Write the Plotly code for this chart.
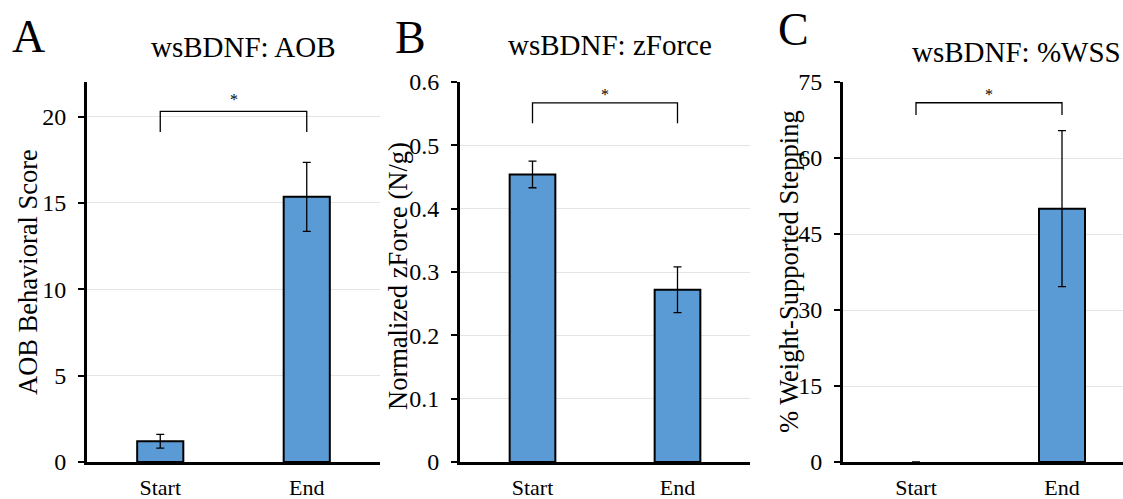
import plotly.graph_objects as go

categories = ["Start", "End"]

aob_mean = [1.2, 15.35]
aob_err = [0.4, 2.0]

zforce_mean = [0.454, 0.272]
zforce_err = [0.021, 0.036]

wss_mean = [0, 50.0]
wss_err = [0, 15.4]

# significance brackets: [bottom, top], star height
aob_bracket = [19.1, 20.3]
aob_star = 21.0
zforce_bracket = [0.535, 0.567]
zforce_star = 0.580
wss_bracket = [68.5, 70.9]
wss_star = 72.6

panel_titles = ["wsBDNF: AOB", "wsBDNF: zForce", "wsBDNF: %WSS"]
y_titles = ["AOB Behavioral Score", "Normalized zForce (N/g)", "% Weight-Supported Stepping"]
panel_letters = ["A", "B", "C"]

aob_ticks = [0, 5, 10, 15, 20]
zforce_ticks = [0, 0.1, 0.2, 0.3, 0.4, 0.5, 0.6]
zforce_ticklabels = ["0", "0.1", "0.2", "0.3", "0.4", "0.5", "0.6"]
wss_ticks = [0, 15, 30, 45, 60, 75]

FONT = "Liberation Serif"
BAR = "#5B9BD5"
W, H = 1123, 499

fig = go.Figure()

panels = [
    ("x", "y", aob_mean, aob_err, aob_bracket),
    ("x2", "y2", zforce_mean, zforce_err, zforce_bracket),
    ("x3", "y3", wss_mean, wss_err, wss_bracket),
]

for xa, ya, m, e, br in panels:
    fig.add_trace(go.Bar(
        x=categories, y=m, xaxis=xa, yaxis=ya, width=0.315,
        marker=dict(color=BAR, line=dict(color="black", width=[2 if v else 0 for v in m])),
        error_y=dict(type="data", array=[v if v else None for v in e], visible=True,
                     color="black", thickness=1.3, width=4),
        showlegend=False, hoverinfo="skip",
    ))
    fig.add_trace(go.Scatter(
        x=[categories[0], categories[0], categories[1], categories[1]],
        y=[br[0], br[1], br[1], br[0]],
        xaxis=xa, yaxis=ya, mode="lines",
        line=dict(color="black", width=1.3), showlegend=False, hoverinfo="skip",
    ))


def px(x):
    return x / W


def py(y):
    return 1 - y / H


ydom = [py(462), py(82)]
x_domains = [[px(87), px(380)], [px(460), px(750)], [px(843), 1.0]]
x_ranges = [[-0.5, 1.5], [-0.5, 1.5], [-0.5, -0.5 + 280 / 146]]
y_ranges = [[0, 22], [0, 0.6], [0, 75]]
y_tickvals = [aob_ticks, zforce_ticks, wss_ticks]
y_ticktext = [[str(v) for v in aob_ticks], zforce_ticklabels, [str(v) for v in wss_ticks]]

for i in range(3):
    sfx = "" if i == 0 else str(i + 1)
    fig.layout["xaxis" + sfx] = dict(
        domain=x_domains[i], range=x_ranges[i], type="category",
        anchor="y" + sfx, showline=True, linecolor="black", linewidth=3,
        ticks="", showgrid=False, zeroline=False, automargin=False, layer="above traces",
        tickfont=dict(family=FONT, size=22, color="black"), ticklabelstandoff=4,
    )
    fig.layout["yaxis" + sfx] = dict(
        domain=ydom, range=y_ranges[i], anchor="x" + sfx,
        showline=True, linecolor="black", linewidth=3,
        ticks="outside", ticklen=6, tickwidth=2, tickcolor="black",
        showgrid=True, gridcolor="#E4E4E4", gridwidth=1, zeroline=False,
        tickvals=y_tickvals[i], ticktext=y_ticktext[i], automargin=False,
        tickfont=dict(family=FONT, size=24, color="black"), ticklabelstandoff=7,
    )

annotations = []
stars = [(aob_star, "x", "y"), (zforce_star, "x2", "y2"), (wss_star, "x3", "y3")]
for st, xa, ya in stars:
    annotations.append(dict(x=0.5, y=st, xref=xa, yref=ya, text="*", showarrow=False,
                            xanchor="center", yanchor="middle",
                            font=dict(family=FONT, size=16, color="#000000")))

ytitle_pos = [(28, 272), (398, 276), (789, 272)]
for (xx, yy), t in zip(ytitle_pos, y_titles):
    annotations.append(dict(x=px(xx), y=py(yy), xref="paper", yref="paper", text=t,
                            textangle=-90, showarrow=False, xanchor="center", yanchor="middle",
                            font=dict(family=FONT, size=26.5, color="black")))

title_pos = [(243, 47, "center"), (610, 45, "center"), (910, 52, "left")]
for (xx, yy, anc), t in zip(title_pos, panel_titles):
    annotations.append(dict(x=px(xx), y=py(yy), xref="paper", yref="paper", text=t,
                            xanchor=anc, yanchor="middle", showarrow=False,
                            font=dict(family=FONT, size=29, color="black")))

letter_pos = [(28, 37), (410, 38), (793, 30)]
for (xx, yy), t in zip(letter_pos, panel_letters):
    annotations.append(dict(x=px(xx), y=py(yy), xref="paper", yref="paper", text=t,
                            xanchor="center", yanchor="middle",
                            showarrow=False, font=dict(family=FONT, size=46, color="black")))

fig.update_layout(
    width=W, height=H, margin=dict(l=0, r=0, t=0, b=0),
    paper_bgcolor="white", plot_bgcolor="white",
    annotations=annotations, bargap=0.3,
)

fig.write_html("out.html")
